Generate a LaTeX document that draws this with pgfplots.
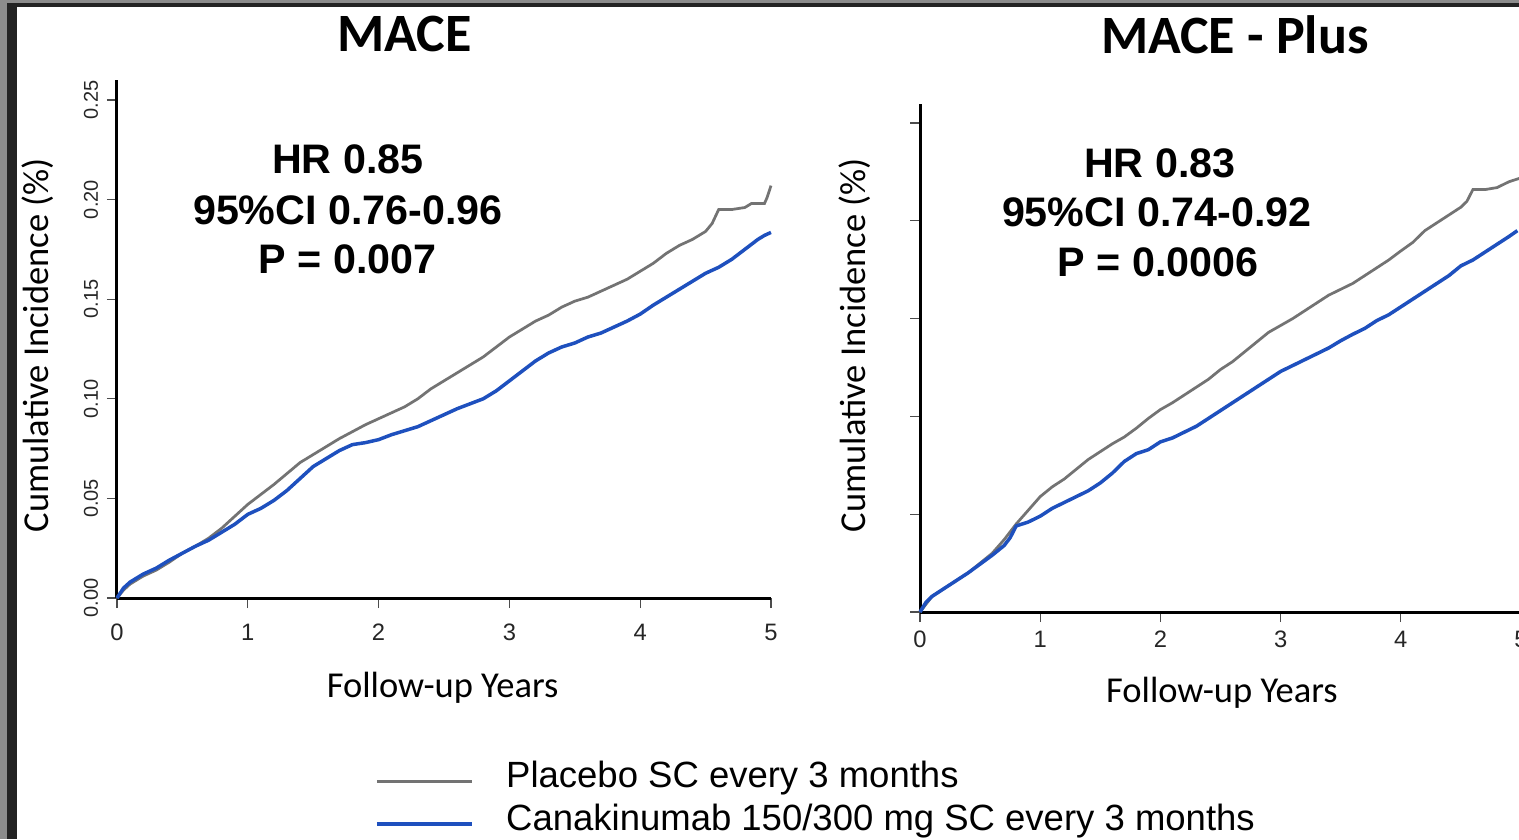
\documentclass[border=0pt]{standalone}
\usepackage{pgfplots}
\pgfplotsset{compat=1.18}
\usepackage{fontspec}
\setmainfont{Liberation Sans}
\newfontfamily\calibri{Carlito}
\definecolor{placebo}{RGB}{115,115,115}
\definecolor{cana}{RGB}{30,80,190}
\definecolor{framec}{RGB}{35,35,35}

\pgfplotsset{
 kmaxis/.style={
  scale only axis, axis lines=left, axis line style={-, line width=1.2pt, black},
  xmin=0,xmax=5,ymin=0,ymax=0.26,
  xtick={0,1,2,3,4,5}, ytick={0,0.05,0.10,0.15,0.20,0.25},
  tick align=outside, major tick length=4pt,
  major tick style={black!70, line width=0.5pt},
  xticklabel style={font=\fontsize{9.5}{10}\selectfont, black!85},
  yticklabel style={font=\fontsize{8}{9}\selectfont, black!85},
  /pgf/number format/assume math mode=true,
  label style={font=\calibri\fontsize{14.6}{16}\selectfont},
  title style={font=\calibri\bfseries\fontsize{21.6}{24}\selectfont},
  clip=false,
 },
 plc/.style={placebo, line width=1.1pt},
 cna/.style={cana, line width=1.4pt},
}

\begin{document}
\begin{tikzpicture}
% frame of the original figure
\fill[black!45] (0pt,0pt) rectangle (607.6pt,-1.2pt);
\fill[framec] (0pt,-1.2pt) rectangle (607.6pt,-2.8pt);
\fill[black!45] (0pt,0pt) rectangle (2.8pt,-335.6pt);
\fill[framec] (2.8pt,-1.2pt) rectangle (6.6pt,-335.6pt);

% ---------------- MACE ----------------
\begin{axis}[kmaxis, at={(46.8pt,-239.2pt)}, anchor=south west,
  width=261.6pt, height=207.2pt,
  yticklabels={0.00,0.05,0.10,0.15,0.20,0.25},
  yticklabel style={rotate=90, anchor=south},
  xticklabel shift=3pt,
  xlabel={Follow-up Years}, ylabel={Cumulative Incidence (\%)},
  xlabel style={at={(axis description cs:0.498,-0.174)}, anchor=center},
  ylabel style={at={(axis description cs:-0.121,0.488)}, anchor=center},
  title={MACE}, title style={at={(axis description cs:0.440,1.060)}, anchor=center},
  legend style={at={(axis description cs:0.394,-0.395)}, anchor=west,
    draw=none, fill=none, inner sep=0pt, column sep=13pt, row sep=0pt,
    font=\fontsize{14.6}{17}\selectfont,
    nodes={inner sep=0pt, text height=11pt, text depth=6.2pt}},
  legend cell align=left,
  legend image code/.code={\draw[#1] (0pt,0pt) -- (38pt,0pt);},
]
\addplot[plc] coordinates {
(0,0) (0.05,0.004) (0.1,0.007) (0.15,0.009) (0.2,0.011) (0.3,0.014) (0.4,0.018)
(0.5,0.0225) (0.6,0.026) (0.7,0.030) (0.8,0.035) (0.9,0.041) (1.0,0.047)
(1.1,0.052) (1.2,0.057) (1.3,0.0625) (1.4,0.068) (1.5,0.072) (1.6,0.076)
(1.7,0.080) (1.8,0.0835) (1.9,0.087) (2.0,0.090) (2.1,0.093) (2.2,0.096)
(2.3,0.100) (2.4,0.105) (2.5,0.109) (2.6,0.113) (2.7,0.117) (2.8,0.121)
(2.9,0.126) (3.0,0.131) (3.1,0.135) (3.2,0.139) (3.3,0.142) (3.4,0.146)
(3.5,0.149) (3.6,0.151) (3.7,0.154) (3.8,0.157) (3.9,0.160) (4.0,0.164)
(4.1,0.168) (4.2,0.173) (4.3,0.177) (4.4,0.180) (4.5,0.184) (4.55,0.188)
(4.6,0.195) (4.7,0.195) (4.8,0.196) (4.85,0.198) (4.95,0.198) (4.97,0.201) (5.0,0.207)
};
\addlegendentry{Placebo SC every 3 months}
\addplot[cna] coordinates {
(0,0) (0.05,0.005) (0.1,0.008) (0.15,0.010) (0.2,0.012) (0.3,0.015) (0.4,0.019)
(0.5,0.0225) (0.6,0.026) (0.7,0.029) (0.8,0.033) (0.9,0.037) (1.0,0.042)
(1.1,0.045) (1.2,0.049) (1.3,0.054) (1.4,0.060) (1.5,0.066) (1.6,0.070)
(1.7,0.074) (1.8,0.077) (1.9,0.078) (2.0,0.0795) (2.1,0.082) (2.2,0.084)
(2.3,0.086) (2.4,0.089) (2.5,0.092) (2.6,0.095) (2.7,0.0975) (2.8,0.100)
(2.9,0.104) (3.0,0.109) (3.1,0.114) (3.2,0.119) (3.3,0.123) (3.4,0.126)
(3.5,0.128) (3.6,0.131) (3.7,0.133) (3.8,0.136) (3.9,0.139) (4.0,0.1425)
(4.1,0.147) (4.2,0.151) (4.3,0.155) (4.4,0.159) (4.5,0.163) (4.6,0.166)
(4.7,0.170) (4.8,0.175) (4.9,0.180) (4.95,0.182) (5.0,0.1835)
};
\addlegendentry{Canakinumab 150/300 mg SC every 3 months}
\node[font=\bfseries\fontsize{16.5}{18}\selectfont] at (axis description cs:0.353,0.846) {HR 0.85};
\node[font=\bfseries\fontsize{16.5}{18}\selectfont] at (axis description cs:0.353,0.749) {95\%CI 0.76-0.96};
\node[font=\bfseries\fontsize{16.5}{18}\selectfont] at (axis description cs:0.353,0.653) {P = 0.007};
\end{axis}

% ---------------- MACE - Plus ----------------
\begin{axis}[kmaxis, at={(368pt,-244.8pt)}, anchor=south west,
  width=240.4pt, height=203.4pt,
  yticklabels={},
  xlabel={Follow-up Years}, ylabel={Cumulative Incidence (\%)},
  xlabel style={at={(axis description cs:0.5025,-0.159)}, anchor=center},
  ylabel style={at={(axis description cs:-0.108,0.525)}, anchor=center},
  title={MACE - Plus}, title style={at={(axis description cs:0.524,1.105)}, anchor=center},
]
\addplot[plc] coordinates {
(0,0) (0.05,0.004) (0.1,0.008) (0.2,0.012) (0.3,0.016) (0.4,0.020) (0.5,0.025)
(0.6,0.030) (0.7,0.037) (0.8,0.045) (0.9,0.052) (1.0,0.059) (1.1,0.064)
(1.2,0.068) (1.3,0.073) (1.4,0.078) (1.5,0.082) (1.6,0.086) (1.7,0.0895)
(1.8,0.094) (1.9,0.099) (2.0,0.1035) (2.1,0.107) (2.2,0.111) (2.3,0.115)
(2.4,0.119) (2.5,0.124) (2.6,0.128) (2.7,0.133) (2.8,0.138) (2.9,0.143)
(3.0,0.1465) (3.1,0.150) (3.2,0.154) (3.3,0.158) (3.4,0.162) (3.5,0.165)
(3.6,0.168) (3.7,0.172) (3.8,0.176) (3.9,0.180) (4.0,0.1846) (4.1,0.189)
(4.2,0.195) (4.3,0.199) (4.4,0.203) (4.5,0.207) (4.55,0.210) (4.6,0.216)
(4.7,0.216) (4.8,0.217) (4.9,0.220) (5.0,0.222)
};
\addplot[cna] coordinates {
(0,0) (0.05,0.005) (0.1,0.008) (0.2,0.012) (0.3,0.016) (0.4,0.020) (0.5,0.0245)
(0.6,0.029) (0.7,0.034) (0.75,0.038) (0.8,0.044) (0.9,0.046) (1.0,0.049)
(1.1,0.053) (1.2,0.056) (1.3,0.059) (1.4,0.062) (1.5,0.066) (1.6,0.071)
(1.7,0.077) (1.8,0.081) (1.9,0.083) (2.0,0.087) (2.1,0.089) (2.2,0.092)
(2.3,0.095) (2.4,0.099) (2.5,0.103) (2.6,0.107) (2.7,0.111) (2.8,0.115)
(2.9,0.119) (3.0,0.123) (3.1,0.126) (3.2,0.129) (3.3,0.132) (3.4,0.135)
(3.5,0.1387) (3.6,0.142) (3.7,0.145) (3.8,0.149) (3.9,0.152) (4.0,0.156)
(4.1,0.160) (4.2,0.164) (4.3,0.168) (4.4,0.172) (4.5,0.177) (4.6,0.180)
(4.7,0.184) (4.8,0.188) (4.9,0.192) (4.97,0.195)
};
\node[font=\bfseries\fontsize{16.5}{18}\selectfont] at (axis description cs:0.399,0.883) {HR 0.83};
\node[font=\bfseries\fontsize{16.5}{18}\selectfont] at (axis description cs:0.394,0.786) {95\%CI 0.74-0.92};
\node[font=\bfseries\fontsize{16.5}{18}\selectfont] at (axis description cs:0.396,0.688) {P = 0.0006};
\end{axis}

\pgfresetboundingbox
\path[use as bounding box] (0pt,0pt) rectangle (607.6pt,-335.6pt);
\end{tikzpicture}
\end{document}
